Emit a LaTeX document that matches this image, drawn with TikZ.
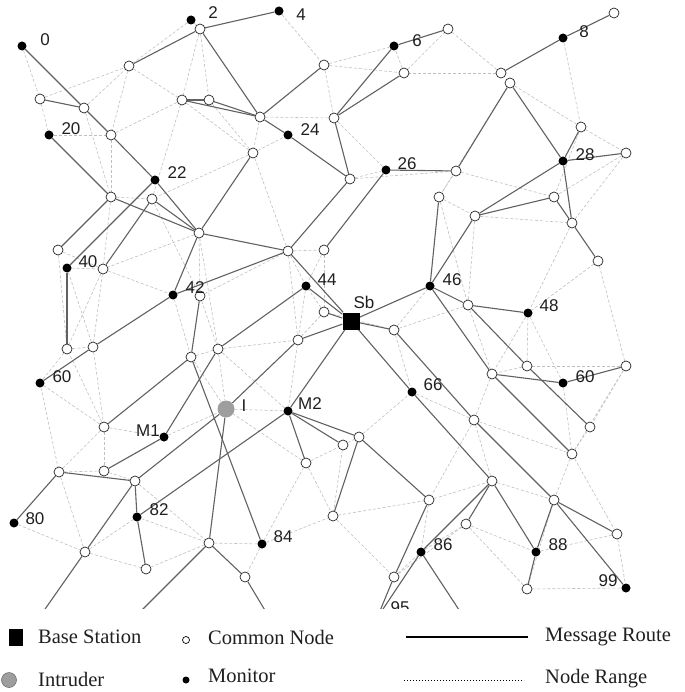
\documentclass[tikz,border=0pt]{standalone}
\usepackage{fontspec}
\setmainfont{Liberation Serif}
\newfontfamily\lblfont{Liberation Sans}
\pgfdeclarelayer{bg}
\pgfsetlayers{bg,main}
\begin{document}
\begin{tikzpicture}[x=1pt,y=-1pt,
 cn/.style={circle,draw=black!85,fill=white,line width=0.7pt,minimum size=10pt,inner sep=0pt},
 mn/.style={circle,fill=black,minimum size=9pt,inner sep=0pt},
 lbl/.style={font=\lblfont\fontsize{17}{17}\selectfont,text=black!88,inner sep=0pt},
 lgt/.style={font=\fontsize{20.5}{20.5}\selectfont,text=black!88,inner sep=0pt,anchor=west},
 route/.style={draw=black!62,line width=1.1pt},
 rng/.style={draw=black!25,line width=0.6pt,dash pattern=on 3pt off 2pt},
]
\useasboundingbox (0,0) rectangle (684,692);
% monitors
\foreach \n/\x/\y in {m0/22/46,m2/191/20,m4/279/11,m6/394/46,m8/563/38,m20/49/135,m22/155/180,m24/288/135,m26/386/170,m28/563/161,m40/67/268,m42/173/295,m44/306/286,m46/430/286,m48/528/313,m60/40/383,m60b/563/383,mM1/164/437,mM2/288/411,m66/412/392,m80/14/523,m82/137/517,m84/262/544,m86/421/552,m88/536/552,m99/626/588}
 \node[mn] (\n) at (\x,\y) {};
% common nodes
\foreach \n/\x/\y in {c1/200/29,c2/129/66,c3/40/99,c4/84/108,c5/111/135,c6/182/100,c7/209/100,c8/324/65,c9/404/73,c10/260/117,c11/334/118,c12/253/153,c13/350/179,c14/448/29,c15/501/73,c16/510/83,c17/581/127,c18/626/153,c19/456/171,c20/439/197,c21/554/197,c22/111/197,c23/152/199,c24/199/233,c25/58/250,c26/103/269,c27/200/296,c28/288/251,c29/324/250,c30/324/312,c31/394/330,c32/298/340,c33/475/216,c34/572/223,c35/598/261,c36/468/305,c37/67/349,c38/93/347,c39/191/357,c40/218/349,c41/527/366,c42/492/374,c43/626/366,c44/104/427,c45/59/472,c46/104/471,c47/135/481,c48/85/552,c49/209/543,c50/146/569,c51/359/437,c52/343/445,c53/306/463,c54/429/500,c55/333/516,c56/245/577,c57/394/577,c58/474/420,c59/590/427,c60/572/454,c61/492/481,c62/554/500,c63/466/524,c64/617/534,c65/527/589,c66/614/13}
 \node[cn] (\n) at (\x,\y) {};
\node[fill=black,minimum size=17pt,inner sep=0pt] (Sb) at (351,321) {};
\node[circle,fill=black!38,minimum size=17pt,inner sep=0pt] (I) at (226,409) {};
\coordinate (b1) at (36,622);
\coordinate (b2) at (130,622);
\coordinate (b3) at (272,622);
\coordinate (b4) at (377,618);
\coordinate (b5) at (467,622);
% labels
\foreach \n/\t/\x/\y in {l0/0/45/40,l2/2/213/13,l4/4/301/15,l6/6/417/41,l8/8/584/32,l20/20/71/129,l22/22/177/173,l24/24/310/130,l26/26/407/164,l28/28/585/155,l40/40/88/262,l42/42/195/288,l44/44/327/280,l46/46/452/280,l48/48/549/306,l60/60/62/377,l60b/60/585/377,lM1/M1/148/431,lM2/M2/310/404,l66/66/433/385,lI/I/244/406,lSb/Sb/364/302,l80/80/35/519,l82/82/159/510,l84/84/283/537,l86/86/443/545,l88/88/558/545,l99/99/608/581}
 \node[lbl] (\n) at (\x,\y) {\t};
\begin{pgfonlayer}{bg}
\begin{scope}
\clip (0,0) rectangle (684,608);
\node[lbl] (l95) at (400,608) {95};
% node range
\foreach \a/\b in {m0/c3,c3/m20,c3/c2,c4/c2,c2/c6,c2/c5,c5/c6,c1/c6,c1/c7,m2/c2,c6/c23,c5/c22,c4/c22,m20/c5,m2/c1,
 m4/c8,c8/c9,c8/m6,c8/c11,c10/c12,c10/c11,c12/m24,c11/m26,c13/m26,c13/c19,c9/m6,c12/c28,c7/c12,c6/c12,c12/c23,c9/c14,
 c14/c15,m8/c17,c16/c17,c17/c18,c18/c21,c18/c34,c19/c21,c19/c20,c15/c9,c16/c20,c17/c21,
 c25/c37,m40/c38,c26/m42,c26/c38,c26/c37,c24/c27,c27/c40,m42/c39,c37/c38,c38/c44,c37/m60,c25/c26,c22/c23,c23/c27,m40/c26,c22/c26,c24/c26,
 c28/c29,c28/m44,c29/c30,c28/c32,m44/c32,c30/c32,c40/c32,c31/m46,c31/m66,c32/mM2,c29/m44,c30/m44,c31/c30,c27/c28,c39/c40,c40/I,c24/c40,
 c20/c33,c33/c36,c36/c42,c34/m48,c35/m48,m48/c41,m48/c42,m48/m60b,c41/c42,c43/c59,c20/c36,c35/c43,c31/c36,c33/c34,c41/c43,
 c44/mM1,c44/c45,c44/c46,c45/c46,mM1/I,c47/c49,m82/c49,c48/c50,m80/c48,c48/m82,c46/mM1,c45/c48,c44/c37,c44/m60,m60/c45,c46/c47,c39/I,
 I/mM2,c53/c55,c52/c55,c53/c52,m84/c55,c55/c57,c55/c54,m84/c56,c49/m84,c51/m66,c54/m86,c54/c61,c52/c51,mM2/c40,c53/m84,c53/I,c50/c49,
 c58/c61,c58/c60,c60/c62,c60/c64,c61/c62,c63/c65,c63/m88,m88/c64,c64/m99,c65/m99,c59/c60,m66/c58,c42/c58,c58/c54,c63/m86,c57/m86,c63/c57,c62/c65,m60b/c60,c43/c60}
 \draw[rng] (\a) -- (\b);
% message routes
\foreach \a/\b in {m0/c4,c4/c5,c5/m22,c3/c4,m20/c22,c2/c1,c1/m4,c1/c10,c10/m24,m24/c13,c6/c7,c7/c10,c6/c10,c10/c8,c11/m6,c11/c9,c11/c13,m6/c14,c12/c24,c13/c28,m26/c29,c28/m42,c24/c28,c28/Sb,m44/Sb,m44/c40,c30/Sb,c32/Sb,c32/I,I/c47,c47/c48,Sb/mM2,Sb/m46,Sb/c31,Sb/m66,c31/c58,m46/c20,m46/c33,m46/c36,m46/c42,c36/c41,c42/m60b,m60b/c43,c36/m48,c42/c60,c41/c59,m66/c61,c58/c62,c61/m88,c61/c63,c61/m86,c62/m88,c62/c64,c62/m99,m88/c65,c54/c57,c51/c54,c51/c55,mM2/c51,mM2/c52,mM2/c53,mM2/m82,c39/m84,c49/c56,c49/I,m22/c24,c22/c24,c25/c22,m22/m40,c23/c26,c23/c24,m40/c37,m60/c38,c38/m42,m42/c24,c27/c39,c39/c44,c40/mM1,mM1/c46,c45/c47,c45/m80,c47/m82,m82/c50,m8/c15,m8/c66,c16/c19,c16/m28,m28/c17,m28/c18,m28/c33,m28/c34,c34/c35,c21/c34,c33/c21,m26/c19,c48/b1,c49/b2,c56/b3,c57/b4,m86/b4,m86/b5}
 \draw[route] (\a) -- (\b);
\end{scope}
\end{pgfonlayer}
% legend
\node[fill=black,minimum width=14pt,minimum height=17pt,inner sep=0pt] (lgsq) at (16,637) {};
\node[lgt] (lgbs) at (38,637) {Base Station};
\node[circle,draw=black,line width=0.7pt,minimum size=7pt,inner sep=0pt] (lgcn) at (186,640) {};
\node[lgt] (lgcnt) at (208,637) {Common Node};
\coordinate (lgr1) at (406,637);
\coordinate (lgr2) at (528,637);
\draw[line width=2.4pt] (lgr1) -- (lgr2);
\node[lgt] (lgmr) at (545,637) {Message Route};
\node[circle,fill=black!38,draw=black!60,line width=0.5pt,minimum size=15pt,inner sep=0pt] (lgin) at (9,680) {};
\node[lgt] (lgint) at (38,679) {Intruder};
\node[circle,fill=black,minimum size=7pt,inner sep=0pt] (lgmn) at (186,680) {};
\node[lgt] (lgmnt) at (208,676) {Monitor};
\coordinate (lgd1) at (404,680);
\coordinate (lgd2) at (524,680);
\draw[line width=0.8pt,dash pattern=on 1pt off 2pt] (lgd1) -- (lgd2);
\node[lgt] (lgnr) at (545,679) {Node Range};
\end{tikzpicture}
\end{document}
